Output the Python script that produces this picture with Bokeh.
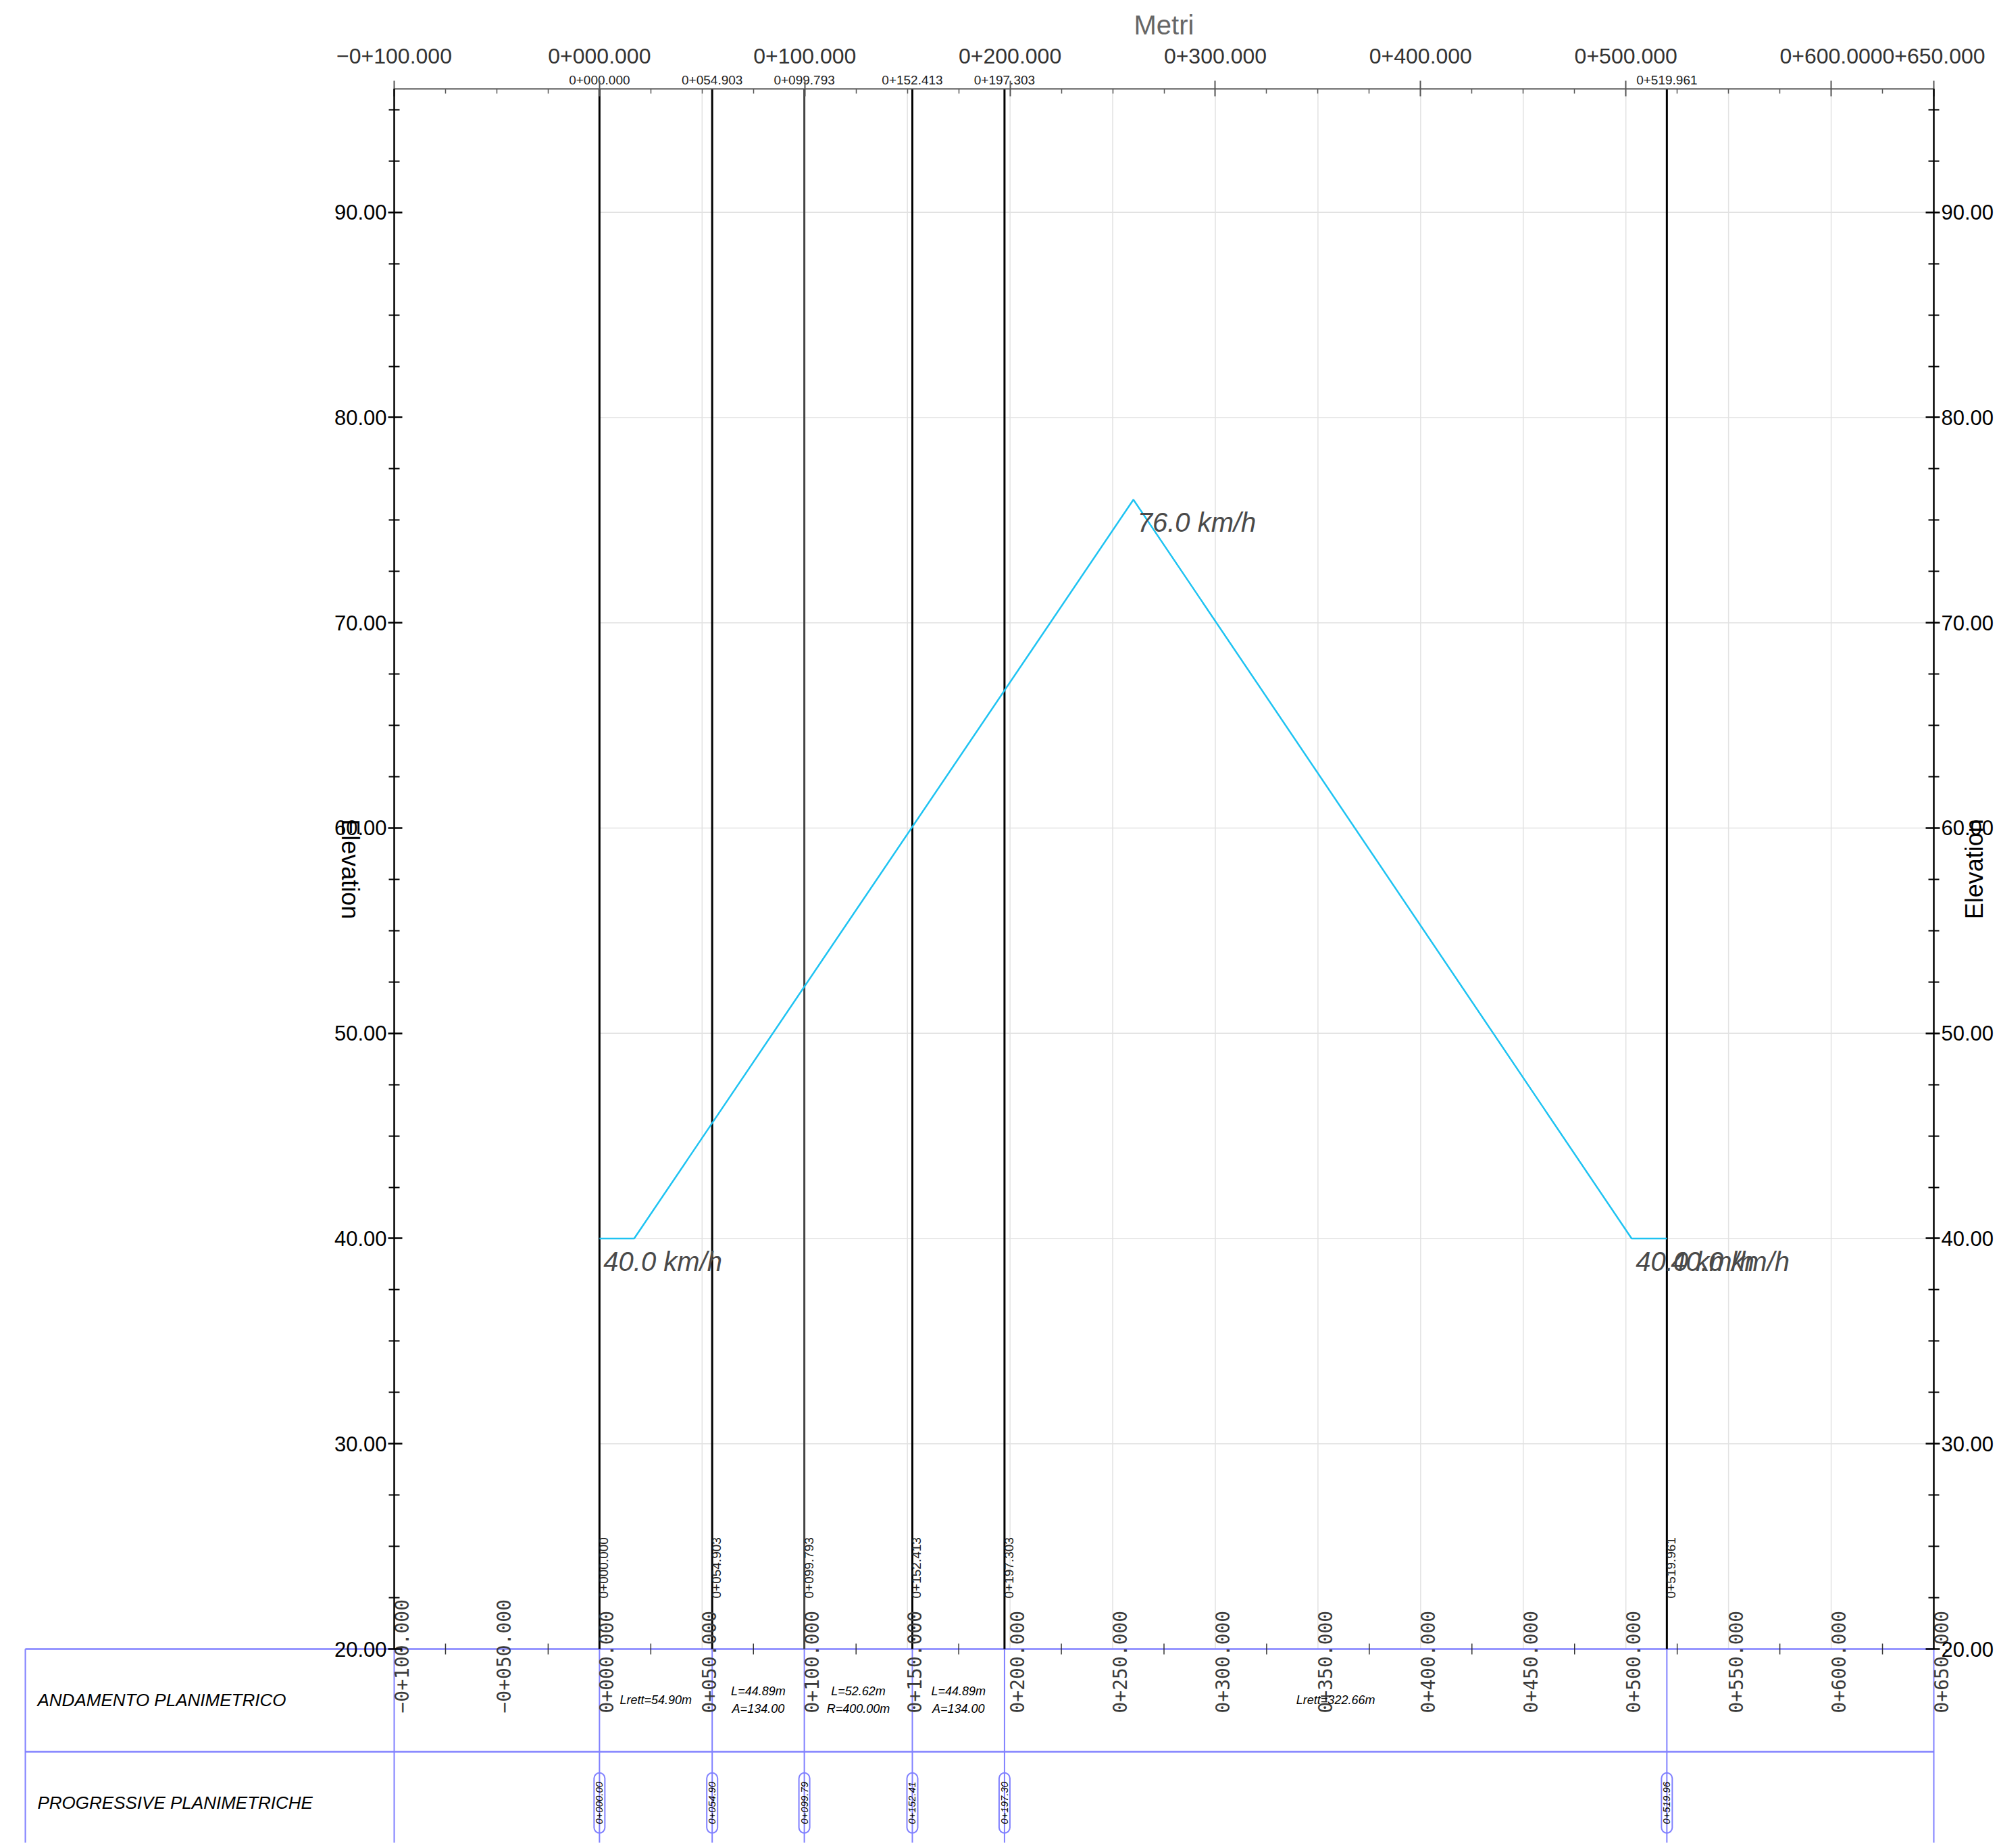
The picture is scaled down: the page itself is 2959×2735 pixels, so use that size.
import math
from bokeh.plotting import figure
from bokeh.models import Range1d, LinearAxis, FixedTicker, NumeralTickFormatter
from bokeh.core.properties import value
from bokeh.embed import file_html
from bokeh.resources import INLINE

# ---------------- data ----------------
speed_x = [0.0, 16.9, 260.1, 502.8, 519.961]          # progressive (m)
speed_v = [40.0, 40.0, 76.0, 40.0, 40.0]              # speed (km/h)
speed_label_idx = [0, 2, 3, 4]

stations = [0.0, 54.903, 99.793, 152.413, 197.303, 519.961]
station_labels = ["0+000.000", "0+054.903", "0+099.793", "0+152.413", "0+197.303", "0+519.961"]
station_short = ["0+000.00", "0+054.90", "0+099.79", "0+152.41", "0+197.30", "0+519.96"]

top_ticks = [-100, 0, 100, 200, 300, 400, 500, 600, 650]
top_tick_labels = ["\u22120+100.000", "0+000.000", "0+100.000", "0+200.000", "0+300.000",
                   "0+400.000", "0+500.000", "0+600.000", "0+650.000"]
top_minor = [-75, -50, -25, 25, 50, 75, 125, 150, 175, 225, 250, 275, 325, 350, 375,
             425, 450, 475, 525, 550, 575, 625]

bottom_ticks = [-100, -50, 0, 50, 100, 150, 200, 250, 300, 350, 400, 450, 500, 550, 600, 650]
bottom_tick_labels = ["\u22120+100.000", "\u22120+050.000", "0+000.000", "0+050.000", "0+100.000",
                      "0+150.000", "0+200.000", "0+250.000", "0+300.000", "0+350.000",
                      "0+400.000", "0+450.000", "0+500.000", "0+550.000", "0+600.000", "0+650.000"]
bottom_minor = [-75, -25, 25, 75, 125, 175, 225, 275, 325, 375, 425, 475, 525, 575, 625]

elev_major = [20, 30, 40, 50, 60, 70, 80, 90]
elev_minor = [22.5, 25, 27.5, 32.5, 35, 37.5, 42.5, 45, 47.5, 52.5, 55, 57.5, 62.5, 65, 67.5,
              72.5, 75, 77.5, 82.5, 85, 87.5, 92.5, 95]

grid_x = [50, 100, 150, 200, 250, 300, 350, 400, 450, 500, 550, 600]
grid_y = [30, 40, 50, 60, 70, 80, 90]

elem_start = [0.0, 54.903, 99.793, 152.413, 197.303]
elem_end = [54.903, 99.793, 152.413, 197.303, 519.961]
elem_line1 = ["Lrett=54.90m", "L=44.89m", "L=52.62m", "L=44.89m", "Lrett=322.66m"]
elem_line2 = ["", "A=134.00", "R=400.00m", "A=134.00", ""]

row_titles = ["ANDAMENTO  PLANIMETRICO", "PROGRESSIVE  PLANIMETRICHE"]
row_centers = [17.5, 12.5]
row_lines = [20.0, 15.0]

# ---------------- layout ----------------
W, H = 2951, 2727
FRAME_L, FRAME_R = 583.0, 2862.0       # canvas px of x=-100 / x=650
BASE_Y, Y90 = 2440.0, 313.7            # canvas px of y=20 / y=90
XA, XB = -100.0, 650.0
PX = (FRAME_R - FRAME_L) / (XB - XA)   # px per metre
PY = (BASE_Y - Y90) / 70.0             # px per unit
X0 = XA - FRAME_L / PX
X1 = XA + (W - FRAME_L) / PX
Y1 = 20 + BASE_Y / PY
Y0 = 20 - (H - BASE_Y) / PY
Y_TOPAX = 20 + (BASE_Y - 131) / PY
TABLE_LEFT = XA - (FRAME_L - 37) / PX

BLUE = "#8080ff"
SPEED = "#1ec3f2"
FONT = value("Liberation Sans")

p = figure(width=W, height=H, x_range=Range1d(X0, X1), y_range=Range1d(Y0, Y1),
           x_axis_location="above", output_backend="svg", toolbar_location=None,
           min_border=0)
p.grid.visible = False
p.outline_line_color = None
p.background_fill_color = "white"
p.border_fill_color = "white"

# top axis
xa = p.xaxis[0]
xa.fixed_location = Y_TOPAX
xa.bounds = (XA, XB)
xa.ticker = FixedTicker(ticks=top_ticks, minor_ticks=top_minor)
xa.major_label_overrides = {t: l for t, l in zip(top_ticks, top_tick_labels)}
xa.axis_label = "Metri"
xa.axis_label_text_font = "Liberation Sans"
xa.axis_label_text_font_style = "normal"
xa.axis_label_text_font_size = "40px"
xa.axis_label_text_color = "#666666"
xa.axis_label_standoff = 10
xa.major_label_text_font = "Liberation Sans"
xa.major_label_text_font_size = "32px"
xa.major_label_text_color = "#333333"
xa.major_label_standoff = 26
xa.axis_line_color = "#555555"
xa.axis_line_width = 2
xa.major_tick_line_color = "#555555"
xa.major_tick_line_width = 2
xa.major_tick_in = 11
xa.major_tick_out = 12
xa.minor_tick_line_color = "#555555"
xa.minor_tick_line_width = 1.5
xa.minor_tick_in = 7
xa.minor_tick_out = 0


def style_y(ax, loc):
    ax.fixed_location = loc
    ax.ticker = FixedTicker(ticks=elev_major, minor_ticks=elev_minor)
    ax.formatter = NumeralTickFormatter(format="0.00")
    ax.bounds = (20, Y_TOPAX)
    ax.axis_line_color = "black"
    ax.axis_line_width = 2.5
    ax.major_tick_line_color = "black"
    ax.major_tick_line_width = 2.5
    ax.major_tick_in = 12
    ax.major_tick_out = 9
    ax.minor_tick_line_color = "black"
    ax.minor_tick_line_width = 2
    ax.minor_tick_in = 8
    ax.minor_tick_out = 8
    ax.major_label_text_font = "Liberation Sans"
    ax.major_label_text_font_size = "31px"
    ax.major_label_text_color = "black"
    ax.major_label_standoff = 2


style_y(p.yaxis[0], XA)
ra = LinearAxis()
style_y(ra, XB)
p.add_layout(ra, "right")

# grid
p.segment(x0=grid_x, y0=[20] * len(grid_x), x1=grid_x, y1=[Y_TOPAX] * len(grid_x),
          line_color="#e2e2e2", line_width=1.5)
p.segment(x0=[0] * len(grid_y), y0=grid_y, x1=[XB] * len(grid_y), y1=grid_y,
          line_color="#e2e2e2", line_width=1.5)

# table grid
tbl_x = [TABLE_LEFT, XA] + stations + [XB]
p.segment(x0=tbl_x, y0=[Y0] * len(tbl_x), x1=tbl_x, y1=[20] * len(tbl_x),
          line_color=BLUE, line_width=2)
p.segment(x0=[TABLE_LEFT] * 2, y0=row_lines, x1=[XB] * 2, y1=row_lines,
          line_color=BLUE, line_width=2.5)
p.text(x=[TABLE_LEFT + 18 / PX] * 2, y=row_centers, text=row_titles,
       text_align="left", text_baseline="middle", text_font=FONT,
       text_font_style="italic", text_font_size="26px", text_color="black")

# station lines
st_colors = ["black", "black", "#444444", "black", "black", "black"]
p.segment(x0=stations, y0=[20] * len(stations), x1=stations, y1=[Y_TOPAX] * len(stations),
          line_color=st_colors, line_width=3)

# bottom tick dashes on the 20 line
p.scatter(x=bottom_minor, y=[20] * len(bottom_minor), marker="dash", angle=math.pi / 2,
          size=16, line_color="#333333", line_width=1.5)

# big rotated chainage labels
p.text(x=bottom_ticks, y=[20 - 95 / PY] * len(bottom_ticks), text=bottom_tick_labels,
       angle=math.pi / 2, text_align="left", text_baseline="top",
       text_font=value("DejaVu Sans Mono"), text_font_size="28px", text_color="#3a3a3a")

# small rotated station labels
p.text(x=stations, y=[20 + 75 / PY] * len(stations), text=station_labels,
       angle=math.pi / 2, text_align="left", text_baseline="top",
       text_font=FONT, text_font_size="19px", text_color="#222222")

# station labels at top
p.text(x=stations, y=[Y_TOPAX + 7 / PY] * len(stations), text=station_labels,
       text_align="center", text_baseline="bottom",
       text_font=FONT, text_font_size="19px", text_color="#222222")

# speed line
p.line(speed_x, speed_v, line_color=SPEED, line_width=2.5)
lx = [speed_x[i] + 6 / PX for i in speed_label_idx]
ly = [speed_v[i] - 12 / PY for i in speed_label_idx]
lt = ["%.1f  km/h" % speed_v[i] for i in speed_label_idx]
p.text(x=lx, y=ly, text=lt, text_align="left", text_baseline="top",
       text_font=FONT, text_font_style="italic", text_font_size="40px", text_color="#4a4a4a")

# element texts (row 1)
for a, b, l1, l2 in zip(elem_start, elem_end, elem_line1, elem_line2):
    xc = (a + b) / 2
    if l2:
        p.text(x=[xc, xc], y=[17.5 + 13 / PY, 17.5 - 13 / PY], text=[l1, l2],
               text_align="center", text_baseline="middle", text_font=FONT,
               text_font_style="italic", text_font_size="18px", text_color="black")
    else:
        p.text(x=[xc], y=[17.5], text=[l1], text_align="center", text_baseline="middle",
               text_font=FONT, text_font_style="italic", text_font_size="18px",
               text_color="black")

# pill labels (row 2)
p.text(x=stations, y=[12.5] * len(stations), text=station_short, angle=math.pi / 2,
       text_align="center", text_baseline="middle", text_font=FONT,
       text_font_style="italic", text_font_size="15px", text_color="black",
       border_line_color=BLUE, border_line_width=2, border_radius=11,
       padding=dict(top=3, right=13, bottom=3, left=13))

# Elevation labels
p.text(x=[XA - 65 / PX], y=[58], text=["Elevation"], angle=-math.pi / 2,
       text_align="center", text_baseline="middle", text_font=FONT,
       text_font_size="36px", text_color="black")
p.text(x=[XB + 60 / PX], y=[58], text=["Elevation"], angle=math.pi / 2,
       text_align="center", text_baseline="middle", text_font=FONT,
       text_font_size="36px", text_color="black")

open("out.html", "w").write(file_html(p, INLINE))
